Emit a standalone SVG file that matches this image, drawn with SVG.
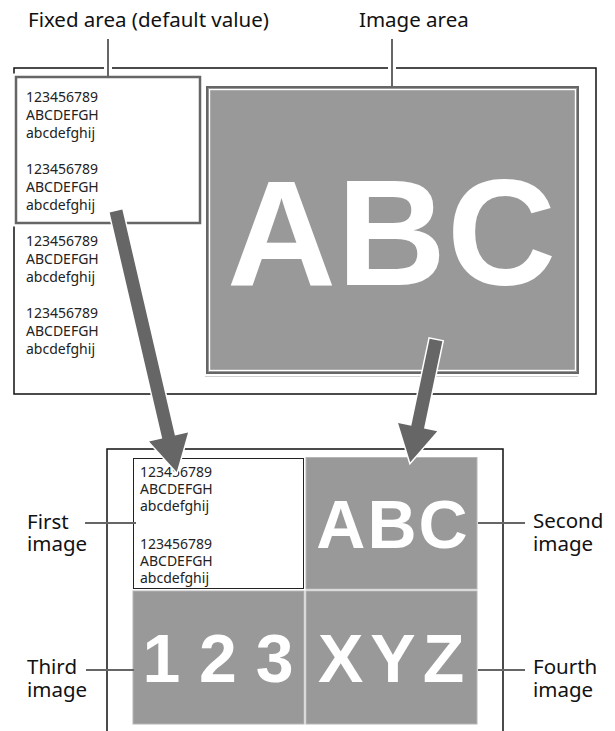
<svg xmlns="http://www.w3.org/2000/svg" width="615" height="731" viewBox="0 0 615 731">
<style>
.lbl{font-family:"Noto Sans","DejaVu Sans",sans-serif;font-size:20.5px;fill:#111}
.sm{font-family:"Noto Sans","DejaVu Sans",sans-serif;font-size:14px;fill:#222}
.big{font-family:"Liberation Sans",Arial,sans-serif;font-weight:bold;fill:#fff}
.frame{fill:none;stroke:#111;stroke-width:1.5}
.halo{stroke:#fff;stroke-width:8;fill:none}
.lead{stroke:#666;stroke-width:2;fill:none}
.cell{fill:#999;stroke:#b5b5b5;stroke-width:1}
.arrow{fill:#666;stroke:#fff;stroke-width:3;paint-order:stroke;stroke-linejoin:miter}
</style>
<rect width="615" height="731" fill="#fff"/>
<g id="frames">
<rect class="frame" x="14" y="68" width="582" height="326"/>
<path class="frame" d="M107,731 V449 H503 V731"/>
</g>
<g id="fixed-area">
<rect x="16" y="77" width="184" height="146" fill="#fff" stroke="#fff" stroke-width="7"/>
<rect x="16" y="77" width="184" height="146" fill="#fff" stroke="#666" stroke-width="2.5"/>
<text class="sm" x="26" y="102">123456789</text>
<text class="sm" x="26" y="120">ABCDEFGH</text>
<text class="sm" x="26" y="138">abcdefghij</text>
<text class="sm" x="26" y="174">123456789</text>
<text class="sm" x="26" y="192">ABCDEFGH</text>
<text class="sm" x="26" y="210">abcdefghij</text>
<text class="sm" x="26" y="246">123456789</text>
<text class="sm" x="26" y="264">ABCDEFGH</text>
<text class="sm" x="26" y="282">abcdefghij</text>
<text class="sm" x="26" y="318">123456789</text>
<text class="sm" x="26" y="336">ABCDEFGH</text>
<text class="sm" x="26" y="354">abcdefghij</text>
</g>
<g id="image-area">
<rect x="207" y="87" width="371" height="286" fill="#999" stroke="#666" stroke-width="2"/>
<rect x="209.6" y="89.6" width="365.8" height="280.8" fill="none" stroke="#fff" stroke-width="1.2"/>
<line x1="205" y1="376.5" x2="578" y2="376.5" stroke="#d0d0d0" stroke-width="1"/>
<text class="big" x="392" y="285" font-size="151" text-anchor="middle" letter-spacing="1">ABC</text>
</g>
<g id="first-image">
<rect x="133.5" y="458.5" width="170" height="130" fill="#fff" stroke="#222" stroke-width="1"/>
<text class="sm" x="140" y="476.5">123456789</text>
<text class="sm" x="140" y="493.5">ABCDEFGH</text>
<text class="sm" x="140" y="510.5">abcdefghij</text>
<text class="sm" x="140" y="548.5">123456789</text>
<text class="sm" x="140" y="565.5">ABCDEFGH</text>
<text class="sm" x="140" y="582.5">abcdefghij</text>
</g>
<g id="second-image">
<rect class="cell" x="306" y="457.5" width="171" height="131.5"/>
<text class="big" x="393" y="548" font-size="68" text-anchor="middle" letter-spacing="2">ABC</text>
</g>
<g id="third-image">
<rect class="cell" x="133" y="591" width="171" height="133"/>
<text class="big" x="218" y="682" font-size="68" text-anchor="middle">1 2 3</text>
</g>
<g id="fourth-image">
<rect class="cell" x="306" y="591" width="171" height="133"/>
<text class="big" x="318" y="682" font-size="68" letter-spacing="7">XYZ</text>
</g>
<g id="connectors">
<line class="halo" x1="108" y1="39" x2="108" y2="74"/>
<line class="lead" x1="108" y1="39" x2="108" y2="77"/>
<line class="halo" x1="392" y1="39" x2="392" y2="84"/>
<line class="lead" x1="392" y1="39" x2="392" y2="87"/>
<line class="lead" x1="85" y1="523" x2="136" y2="523"/>
<line class="lead" x1="86" y1="670" x2="134" y2="670"/>
<line class="lead" x1="478" y1="523" x2="525" y2="523"/>
<line class="lead" x1="478" y1="670" x2="525" y2="670"/>
<polygon class="arrow" transform="translate(116,211) rotate(76.9)" points="0,-6.5 232,-6.5 232,-20 268,0 232,20 232,6.5 0,6.5"/>
<polygon class="arrow" transform="translate(436,340) rotate(101.9)" points="0,-6.5 89,-6.5 89,-20 125,0 89,20 89,6.5 0,6.5"/>
</g>
<g id="labels">
<text class="lbl" x="28" y="27">Fixed area (default value)</text>
<text class="lbl" x="359" y="27">Image area</text>
<text class="lbl" x="27" y="529">First<tspan x="27" dy="22">image</tspan></text>
<text class="lbl" x="27" y="674">Third<tspan x="27" dy="23">image</tspan></text>
<text class="lbl" x="533" y="528">Second<tspan x="533" dy="23">image</tspan></text>
<text class="lbl" x="533" y="674">Fourth<tspan x="533" dy="23">image</tspan></text>
</g>
</svg>
